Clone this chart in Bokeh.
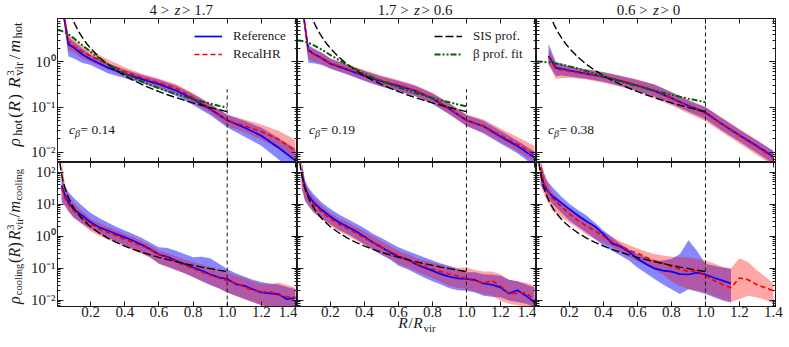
import math
from bokeh.plotting import figure
from bokeh.models import (Range1d, LinearAxis, LogAxis, FixedTicker,
                          CustomJSTickFormatter, Label, Legend, LegendItem)
from bokeh.layouts import column, row
from bokeh.embed import file_html
from bokeh.resources import INLINE

FONT = "Liberation Serif"
INK = "#1a1a1a"
BLUE = "#0000ff"
RED = "#ff0000"
GREEN = "#006400"
BLUE_ALPHA = 0.47
RED_ALPHA = 0.35

# ---------------------------------------------------------------- data
title_left = ["4 >", "1.7 >", "0.6 >"]
title_right = ["> 1.7", "> 0.6", "> 0"]
c_beta_text = ["0.14", "0.19", "0.38"]

x_ticks = [0.2, 0.4, 0.6, 0.8, 1.0, 1.2, 1.4]
x_lim = (0.006, 1.412)
hot_ylim = (0.006, 9.1)
cool_ylim = (0.0065, 200.0)
hot_yticks = [0.01, 0.1, 1.0]
cool_yticks = [0.01, 0.1, 1.0, 10.0, 100.0]
r_vir_line = 1.0
vline_top = [0.25, 0.25, 9.1, 200.0, 200.0, 200.0]

# analytic profiles
R_sis = [0.02, 0.025, 0.03, 0.035, 0.04, 0.05, 0.06, 0.07, 0.08, 0.09, 0.1,
         0.11, 0.12, 0.14, 0.16, 0.18, 0.2, 0.25, 0.3, 0.35, 0.4, 0.45, 0.5,
         0.55, 0.6, 0.65, 0.7, 0.75, 0.8, 0.85, 0.9, 0.95, 1.0]
sis_prof = [198.9, 127.3, 88.4, 64.96, 49.7, 31.8, 22.1, 16.24, 12.43, 9.82,
            7.96, 6.58, 5.53, 4.06, 3.108, 2.456, 1.99, 1.273, 0.884, 0.6496,
            0.497, 0.393, 0.318, 0.263, 0.221, 0.1884, 0.1624, 0.1415, 0.1243,
            0.1101, 0.0982, 0.0882, 0.0796]
R_beta = [0.006, 0.025, 0.05, 0.075, 0.1, 0.15, 0.2, 0.25, 0.3, 0.35, 0.4,
          0.45, 0.5, 0.55, 0.6, 0.65, 0.7, 0.75, 0.8, 0.85, 0.9, 0.95, 1.0]
beta_fit_1 = [5.07, 4.92, 4.50, 3.946, 3.363, 2.364, 1.670, 1.212, 0.908, 0.700,
              0.554, 0.448, 0.369, 0.309, 0.262, 0.225, 0.195, 0.171, 0.151,
              0.134, 0.120, 0.108, 0.0976]
beta_fit_2 = [2.985, 2.939, 2.796, 2.587, 2.341, 1.842, 1.418, 1.095, 0.856,
              0.681, 0.550, 0.452, 0.377, 0.319, 0.273, 0.235, 0.205, 0.180,
              0.160, 0.142, 0.128, 0.115, 0.104]
beta_fit_3 = [1.018, 1.014, 1.001, 0.980, 0.953, 0.881, 0.798, 0.711, 0.627,
              0.551, 0.483, 0.424, 0.373, 0.329, 0.292, 0.259, 0.232, 0.208,
              0.188, 0.170, 0.154, 0.141, 0.1285]

# hot gas, log10 of rho R^3/m  (median, 16th, 84th percentiles)
R_hot_12 = [0.035, 0.07, 0.1, 0.15, 0.2, 0.3, 0.4, 0.5, 0.6, 0.7, 0.8, 0.9,
            1.0, 1.1, 1.2, 1.3, 1.4]
hot1_ref_med = [1.2, 0.39, 0.32, 0.17, 0.06, -0.125, -0.26, -0.38, -0.49, -0.63,
                -0.82, -1.04, -1.29, -1.45, -1.63, -1.89, -2.18]
hot1_ref_lo = [1.1, 0.12, 0.08, -0.02, -0.07, -0.25, -0.36, -0.47, -0.6, -0.75,
               -0.95, -1.17, -1.45, -1.65, -1.85, -2.15, -2.45]
hot1_ref_hi = [1.3, 0.55, 0.45, 0.3, 0.16, -0.03, -0.17, -0.29, -0.39, -0.52,
               -0.71, -0.93, -1.16, -1.3, -1.45, -1.68, -1.92]
hot1_rec_med = [1.2, 0.46, 0.35, 0.23, 0.13, -0.05, -0.21, -0.35, -0.46, -0.58,
                -0.79, -1.02, -1.29, -1.41, -1.54, -1.71, -1.96]
hot1_rec_lo = [1.1, 0.25, 0.2, 0.08, 0.0, -0.17, -0.31, -0.44, -0.56, -0.7,
               -0.9, -1.13, -1.42, -1.55, -1.72, -1.92, -2.2]
hot1_rec_hi = [1.3, 0.62, 0.5, 0.37, 0.25, 0.06, -0.12, -0.26, -0.37, -0.49,
               -0.69, -0.92, -1.17, -1.27, -1.38, -1.52, -1.72]

hot2_ref_med = [1.2, 0.26, 0.18, 0.08, -0.04, -0.17, -0.31, -0.43, -0.53, -0.64,
                -0.81, -1.04, -1.29, -1.42, -1.65, -1.86, -2.11]
hot2_ref_lo = [1.1, -0.02, -0.03, -0.07, -0.15, -0.28, -0.42, -0.55, -0.65,
               -0.76, -0.93, -1.16, -1.41, -1.58, -1.8, -2.02, -2.3]
hot2_ref_hi = [1.3, 0.38, 0.3, 0.2, 0.07, -0.07, -0.2, -0.32, -0.42, -0.53,
               -0.7, -0.92, -1.17, -1.3, -1.52, -1.74, -1.98]
hot2_rec_med = [1.2, 0.23, 0.17, 0.08, -0.03, -0.15, -0.29, -0.41, -0.51, -0.63,
                -0.8, -1.03, -1.29, -1.41, -1.62, -1.82, -2.04]
hot2_rec_lo = [1.1, 0.06, 0.02, -0.05, -0.14, -0.27, -0.41, -0.54, -0.64, -0.76,
               -0.92, -1.15, -1.42, -1.56, -1.77, -1.98, -2.22]
hot2_rec_hi = [1.3, 0.33, 0.28, 0.2, 0.08, -0.05, -0.18, -0.3, -0.4, -0.51,
               -0.68, -0.91, -1.16, -1.27, -1.47, -1.66, -1.85]

R_hot_3 = [0.077, 0.12, 0.15, 0.2, 0.3, 0.4, 0.5, 0.6, 0.7, 0.8, 0.9, 1.0, 1.1,
           1.2, 1.3, 1.4]
hot3_ref_med = [0.13, -0.13, -0.15, -0.19, -0.26, -0.33, -0.42, -0.52, -0.64,
                -0.8, -0.97, -1.12, -1.38, -1.62, -1.85, -2.1]
hot3_ref_lo = [-0.05, -0.31, -0.3, -0.32, -0.37, -0.44, -0.53, -0.64, -0.77,
               -0.93, -1.1, -1.26, -1.52, -1.76, -2.0, -2.25]
hot3_ref_hi = [0.4, 0.0, -0.03, -0.1, -0.17, -0.23, -0.31, -0.4, -0.5, -0.67,
               -0.85, -1.0, -1.25, -1.5, -1.73, -1.96]
hot3_rec_med = [0.10, -0.16, -0.17, -0.21, -0.27, -0.33, -0.41, -0.51, -0.63,
                -0.8, -0.98, -1.14, -1.39, -1.63, -1.87, -2.12]
hot3_rec_lo = [-0.05, -0.38, -0.36, -0.35, -0.39, -0.46, -0.55, -0.66, -0.8,
               -0.96, -1.14, -1.31, -1.56, -1.8, -2.05, -2.3]
hot3_rec_hi = [0.28, -0.02, -0.05, -0.1, -0.16, -0.22, -0.3, -0.39, -0.5, -0.66,
               -0.84, -0.99, -1.24, -1.48, -1.72, -1.98]

# cooling gas, log10 of rho R^3/m
R_cool = [0.03, 0.05, 0.07, 0.1, 0.15, 0.2, 0.25, 0.3, 0.35, 0.4, 0.45, 0.5,
          0.55, 0.6, 0.65, 0.7, 0.75, 0.8, 0.85, 0.9, 0.95, 1.0, 1.05, 1.1,
          1.15, 1.2, 1.25, 1.3, 1.35, 1.4]
cool1_ref_med = [1.58, 1.27, 1.06, 0.85, 0.65, 0.44, 0.28, 0.18, 0.07, -0.03,
                 -0.14, -0.26, -0.40, -0.57, -0.64, -0.76, -0.86, -0.97, -1.07,
                 -1.18, -1.28, -1.33, -1.49, -1.54, -1.65, -1.75, -1.78, -1.80,
                 -1.96, -1.91]
cool1_ref_hi = [1.9, 1.55, 1.38, 1.2, 0.95, 0.73, 0.57, 0.43, 0.3, 0.18, 0.07,
                -0.05, -0.2, -0.34, -0.36, -0.45, -0.55, -0.65, -0.64, -0.68,
                -0.85, -1.02, -1.15, -1.25, -1.35, -1.42, -1.47, -1.5, -1.58,
                -1.65]
cool1_ref_lo = [1.05, 0.95, 0.78, 0.58, 0.40, 0.23, 0.08, -0.04, -0.16, -0.28,
                -0.4, -0.52, -0.65, -0.85, -0.95, -1.05, -1.15, -1.27, -1.4,
                -1.52, -1.62, -1.75, -1.85, -1.95, -2.05, -2.15, -2.2, -2.25,
                -2.25, -2.25]
cool1_rec_med = [1.5, 1.2, 1.0, 0.8, 0.58, 0.38, 0.23, 0.12, 0.02, -0.09, -0.19,
                 -0.3, -0.42, -0.56, -0.67, -0.79, -0.9, -1.0, -1.11, -1.21,
                 -1.3, -1.38, -1.46, -1.58, -1.68, -1.74, -1.72, -1.83, -1.88,
                 -1.9]
cool1_rec_hi = [2.4, 1.6, 1.3, 1.05, 0.78, 0.55, 0.42, 0.3, 0.2, 0.08, -0.03,
                -0.15, -0.28, -0.45, -0.52, -0.62, -0.72, -0.8, -0.88, -0.95,
                -1.05, -1.12, -1.22, -1.3, -1.4, -1.48, -1.5, -1.44, -1.52, -1.6]
cool1_rec_lo = [1.15, 0.95, 0.78, 0.6, 0.38, 0.16, 0.02, -0.1, -0.2, -0.32,
                -0.43, -0.55, -0.67, -0.86, -0.95, -1.05, -1.15, -1.27, -1.38,
                -1.5, -1.62, -1.75, -1.85, -1.95, -2.05, -2.15, -2.2, -2.22,
                -2.25, -2.22]

cool2_ref_med = [2.0, 1.53, 1.27, 1.06, 0.82, 0.61, 0.44, 0.30, 0.16, -0.01,
                 -0.19, -0.34, -0.5, -0.63, -0.71, -0.86, -0.97, -1.07, -1.18,
                 -1.26, -1.31, -1.33, -1.36, -1.47, -1.51, -1.59, -1.78, -1.68,
                 -1.85, -2.06]
cool2_ref_hi = [2.3, 1.75, 1.52, 1.32, 1.05, 0.85, 0.68, 0.54, 0.4, 0.25, 0.08,
                -0.05, -0.2, -0.34, -0.45, -0.55, -0.65, -0.75, -0.85, -0.92,
                -1.02, -1.12, -1.12, -1.18, -1.2, -1.23, -1.35, -1.4, -1.5,
                -1.59]
cool2_ref_lo = [1.5, 1.1, 0.95, 0.75, 0.55, 0.38, 0.2, 0.07, -0.08, -0.25,
                -0.42, -0.58, -0.72, -0.92, -1.02, -1.15, -1.28, -1.4, -1.5,
                -1.62, -1.68, -1.7, -1.75, -1.85, -1.88, -1.9, -2.0, -2.05,
                -2.1, -2.2]
cool2_rec_med = [1.95, 1.45, 1.2, 1.0, 0.75, 0.55, 0.38, 0.24, 0.1, -0.05, -0.2,
                 -0.34, -0.47, -0.6, -0.73, -0.84, -0.93, -1.02, -1.1, -1.18,
                 -1.24, -1.32, -1.4, -1.45, -1.38, -1.55, -1.78, -1.78, -1.75,
                 -2.0]
cool2_rec_hi = [2.4, 1.7, 1.45, 1.22, 0.95, 0.72, 0.56, 0.44, 0.3, 0.15, 0.0,
                -0.15, -0.3, -0.45, -0.55, -0.66, -0.75, -0.82, -0.88, -0.97,
                -0.98, -0.97, -1.05, -1.1, -1.1, -1.18, -1.35, -1.4, -1.45,
                -1.54]
cool2_rec_lo = [1.6, 1.15, 0.95, 0.75, 0.52, 0.34, 0.16, 0.02, -0.12, -0.28,
                -0.42, -0.56, -0.68, -0.86, -0.96, -1.08, -1.2, -1.3, -1.42,
                -1.54, -1.6, -1.65, -1.72, -1.8, -1.85, -2.01, -2.1, -2.15,
                -2.2, -2.25]

R_cool_3ref = [0.03, 0.05, 0.07, 0.1, 0.15, 0.2, 0.25, 0.3, 0.35, 0.4, 0.45,
               0.5, 0.55, 0.6, 0.65, 0.7, 0.75, 0.8, 0.85, 0.9, 0.95, 1.0,
               1.05, 1.1, 1.15]
cool3_ref_med = [2.0, 1.62, 1.42, 1.25, 1.05, 0.85, 0.65, 0.47, 0.31, 0.07,
                 -0.22, -0.32, -0.48, -0.7, -0.86, -1.0, -1.07, -1.1, -1.18,
                 -1.19, -1.13, -1.19, -1.29, -1.38, -1.47]
cool3_ref_hi = [2.3, 1.95, 1.72, 1.53, 1.25, 1.01, 0.82, 0.65, 0.42, 0.18,
                -0.02, -0.24, -0.4, -0.55, -0.65, -0.76, -0.75, -0.71, -0.55,
                -0.12, -0.45, -0.86, -0.92, -0.97, -1.02]
cool3_ref_lo = [1.6, 1.43, 1.22, 1.01, 0.75, 0.49, 0.3, 0.12, -0.08, -0.29,
                -0.45, -0.6, -0.75, -0.97, -1.15, -1.33, -1.5, -1.65, -1.8,
                -1.65, -1.72, -1.8, -1.9, -2.0, -2.06]
cool3_rec_med = [2.15, 1.65, 1.45, 1.19, 0.94, 0.7, 0.49, 0.32, 0.17, 0.0,
                 -0.17, -0.3, -0.43, -0.53, -0.65, -0.76, -0.84, -0.95, -1.02,
                 -1.1, -1.07, -1.22, -1.38, -1.5, -1.6, -1.3, -1.35, -1.5,
                 -1.6, -1.7]
cool3_rec_hi = [2.4, 2.0, 1.7, 1.35, 1.1, 0.85, 0.65, 0.47, 0.3, 0.12, -0.02,
                -0.16, -0.27, -0.38, -0.47, -0.55, -0.6, -0.64, -0.65, -0.66,
                -0.7, -0.75, -0.85, -0.95, -1.0, -0.68, -0.8, -1.05, -1.25,
                -1.48]
cool3_rec_lo = [1.6, 1.3, 1.1, 0.8, 0.6, 0.42, 0.25, 0.05, -0.08, -0.2, -0.32,
                -0.5, -0.65, -0.78, -0.9, -1.05, -1.2, -1.4, -1.55, -1.65,
                -1.7, -1.75, -1.85, -1.95, -2.05, -1.95, -1.85, -1.9, -1.98,
                -2.1]

# ---------------------------------------------------------------- layout
PANEL_WS = [240, 239, 239]
PANEL_H = 144
YLAB_W = 28          # strip holding the rotated y labels
LEFT = 29            # room for the y tick labels
RIGHT = 12
TITLE_H = 18
TICK_H = 17          # room for the x tick labels
XLAB_H = 24
XLAB_OVERLAP = 9     # x-label strip tucks under the tick-label band
TOTAL_W = YLAB_W + LEFT + sum(PANEL_WS) + RIGHT
MID = 0.34           # distance baseline -> middle of a text line, in em

W_REG = {' ': .25, '(': .333, ')': .333, '/': .278, '.': .25, '=': .564,
         '>': .564, 'a': .444, 'c': .444, 'e': .444, 'f': .333, 'g': .5,
         'h': .5, 'i': .278, 'l': .278, 'm': .778, 'n': .5, 'o': .5, 'p': .5,
         'r': .333, 's': .389, 't': .278, 'v': .5}
W_IT = {'R': .611, 'm': .722, 'z': .389, 'c': .444, 'ρ': .52, 'β': .5}


def tw(text, size, italic):
    table = W_IT if italic else W_REG
    return sum(table.get(ch, 0.5) for ch in text) * size


def add_label(p, text, x, y, size, italic=False, angle=0.0, align="left"):
    p.add_layout(Label(x=x, y=y, x_units="screen", y_units="screen", text=text,
                       angle=angle, text_font=FONT, text_font_size=f"{size}px",
                       text_font_style="italic" if italic else "normal",
                       text_color=INK, text_baseline="middle",
                       text_align=align))


def rich_h(p, pieces, x, y_base, center=False):
    """pieces: (text, size, italic, baseline shift, advances, extra gap)"""
    total = sum(tw(t, s, it) + g for t, s, it, dy, adv, g in pieces if adv)
    if center:
        x -= total / 2
    for t, s, it, dy, adv, g in pieces:
        add_label(p, t, x, y_base + dy + MID * s, s, it)
        if adv:
            x += tw(t, s, it) + g


def rich_v(p, pieces, x_base, yc):
    """text reading bottom-to-top; x_base is the baseline position"""
    total = sum(tw(t, s, it) + g for t, s, it, dx, adv, g in pieces if adv)
    y = yc - total / 2
    for t, s, it, dx, adv, g in pieces:
        add_label(p, t, x_base + dx - MID * s, y, s, it, angle=math.pi / 2)
        if adv:
            y += tw(t, s, it) + g


def ylabel_pieces(sub, M, S, k):
    return [("ρ", M, True, 0, True, 1.2 * k), (sub, S, False, 2.5, True, 1.5 * k),
            ("(", M, False, 0, True, 0.3 * k), ("R", M, True, 0, True, 1 * k),
            (")", M, False, 0, True, 4.5 * k), ("R", M, True, 0, True, 1.2 * k),
            ("3", 11, False, -5.5, False, 0), ("vir", S, False, 3, True, 2 * k),
            ("/", M, False, 0, True, 1.5 * k), ("m", M, True, 0, True, 1 * k),
            (sub, S, False, 2.5, True, 0)]


Y_FMT = CustomJSTickFormatter(code="""
const e = Math.round(Math.log10(tick));
const m = {"-": "\u207b", "0": "\u2070", "1": "\u00b9", "2": "\u00b2", "3": "\u00b3"};
let s = "";
for (const ch of String(e)) { s += m[ch]; }
return "10" + s;
""")
X_FMT = CustomJSTickFormatter(code="return tick.toFixed(1);")
EMPTY_FMT = CustomJSTickFormatter(code="return '';")


def style_axis(ax, ticker, fmt, show, major_len, standoff=2):
    ax.ticker = ticker
    ax.axis_line_color = INK
    ax.major_tick_line_color = INK
    ax.minor_tick_line_color = INK
    ax.major_tick_in = major_len
    ax.major_tick_out = 0
    ax.minor_tick_in = 3
    ax.minor_tick_out = 0
    if show:
        ax.formatter = fmt
        ax.major_label_text_font = FONT
        ax.major_label_text_font_size = "15px"
        ax.major_label_text_color = INK
        ax.major_label_standoff = standoff
    else:
        ax.formatter = EMPTY_FMT
        ax.major_label_text_font_size = "0px"
        ax.major_label_standoff = 0


def minor_log(lo_exp, hi_exp):
    return [m * 10.0 ** e for e in range(lo_exp, hi_exp) for m in range(2, 10)]


def dex(vals):
    return [10.0 ** v for v in vals]


def text_fig(w, h, transparent=False):
    f = figure(width=w, height=h, x_range=Range1d(0, w), y_range=Range1d(0, h),
               x_axis_location=None, y_axis_location=None,
               output_backend="svg", toolbar_location=None, min_border=0)
    f.xgrid.grid_line_color = None
    f.ygrid.grid_line_color = None
    f.outline_line_color = None
    f.background_fill_color = "white"
    f.border_fill_color = "white"
    if transparent:
        f.background_fill_alpha = 0
        f.border_fill_alpha = 0
    return f


def make_fig(rw, col):
    ylim = hot_ylim if rw == 0 else cool_ylim
    w = PANEL_WS[col] + (LEFT if col == 0 else 0) + (RIGHT if col == 2 else 0)
    h = PANEL_H + (TICK_H if rw == 1 else 0)
    p = figure(width=w, height=h, x_range=Range1d(*x_lim),
               y_range=Range1d(*ylim), y_axis_type="log",
               output_backend="svg", toolbar_location=None,
               min_border=0,
               min_border_left=LEFT if col == 0 else 0,
               min_border_right=RIGHT if col == 2 else 0,
               min_border_top=0,
               min_border_bottom=TICK_H if rw == 1 else 0)
    p.background_fill_color = "white"
    p.border_fill_color = "white"
    p.outline_line_color = INK
    p.xgrid.grid_line_color = None
    p.ygrid.grid_line_color = None
    yt = hot_yticks if rw == 0 else cool_yticks
    yticker = FixedTicker(ticks=yt, minor_ticks=minor_log(-3, 3))
    xticker = FixedTicker(ticks=x_ticks, minor_ticks=[])
    top_ax = LinearAxis()
    right_ax = LogAxis()
    p.add_layout(top_ax, "above")
    p.add_layout(right_ax, "right")
    style_axis(p.below[0], xticker, X_FMT, rw == 1, 5, standoff=0)
    style_axis(top_ax, xticker, X_FMT, False, 5)
    style_axis(p.left[0], yticker, Y_FMT, col == 0, 6, standoff=2)
    style_axis(right_ax, yticker, Y_FMT, False, 6)
    return p


def draw_panel(p, R_ref, ref_med, ref_lo, ref_hi, R_rec, rec_med, rec_lo, rec_hi):
    p.varea(x=R_ref, y1=dex(ref_lo), y2=dex(ref_hi), fill_color=BLUE,
            fill_alpha=BLUE_ALPHA)
    p.varea(x=R_rec, y1=dex(rec_lo), y2=dex(rec_hi), fill_color=RED,
            fill_alpha=RED_ALPHA)
    l_ref = p.line(R_ref, dex(ref_med), line_color=BLUE, line_width=1.7)
    l_rec = p.line(R_rec, dex(rec_med), line_color=RED, line_width=1.7,
                   line_dash="5 3")
    return l_ref, l_rec


panels_hot = [
    (R_hot_12, hot1_ref_med, hot1_ref_lo, hot1_ref_hi, R_hot_12, hot1_rec_med, hot1_rec_lo, hot1_rec_hi),
    (R_hot_12, hot2_ref_med, hot2_ref_lo, hot2_ref_hi, R_hot_12, hot2_rec_med, hot2_rec_lo, hot2_rec_hi),
    (R_hot_3, hot3_ref_med, hot3_ref_lo, hot3_ref_hi, R_hot_3, hot3_rec_med, hot3_rec_lo, hot3_rec_hi),
]
panels_cool = [
    (R_cool, cool1_ref_med, cool1_ref_lo, cool1_ref_hi, R_cool, cool1_rec_med, cool1_rec_lo, cool1_rec_hi),
    (R_cool, cool2_ref_med, cool2_ref_lo, cool2_ref_hi, R_cool, cool2_rec_med, cool2_rec_lo, cool2_rec_hi),
    (R_cool_3ref, cool3_ref_med, cool3_ref_lo, cool3_ref_hi, R_cool, cool3_rec_med, cool3_rec_lo, cool3_rec_hi),
]
beta_fits = [beta_fit_1, beta_fit_2, beta_fit_3]

figs = [[None] * 3, [None] * 3]
for rw in range(2):
    for col in range(3):
        p = make_fig(rw, col)
        figs[rw][col] = p
        data = panels_hot[col] if rw == 0 else panels_cool[col]
        l_ref, l_rec = draw_panel(p, *data)
        ylim = hot_ylim if rw == 0 else cool_ylim
        p.segment(x0=[r_vir_line], y0=[ylim[0]], x1=[r_vir_line],
                  y1=[vline_top[rw * 3 + col]], line_color=INK,
                  line_width=1, line_dash="4 3")
        l_sis = p.line(R_sis, sis_prof, line_color="black", line_width=1.4,
                       line_dash="8 3")
        if rw == 0:
            l_beta = p.line(R_beta, beta_fits[col], line_color=GREEN,
                            line_width=2, line_dash="6 2 2 2 2 2")
            rich_h(p, [("c", 13.5, True, 0, True, 0),
                       ("β", 10, True, -3, True, 0.5),
                       (" = " + c_beta_text[col], 13.5, False, 0, True, 0)],
                   11.5, 28.7)
            if col in (0, 1):
                items = ([LegendItem(label="Reference", renderers=[l_ref]),
                          LegendItem(label="RecalHR", renderers=[l_rec])]
                         if col == 0 else
                         [LegendItem(label="SIS prof.", renderers=[l_sis]),
                          LegendItem(label="β prof. fit", renderers=[l_beta])])
                leg = Legend(items=items, location=(132, 94),
                             label_text_font=FONT,
                             label_text_font_size="13px",
                             label_text_color=INK,
                             glyph_width=28, glyph_height=18,
                             label_height=18, label_standoff=11,
                             spacing=0, padding=5, margin=0,
                             background_fill_alpha=0,
                             border_line_alpha=0)
                p.add_layout(leg)

# ---- text strips
title_fig = text_fig(TOTAL_W, TITLE_H)
zw = tw("z", 15, True)
x0 = YLAB_W + LEFT
for col in range(3):
    zc = x0 + sum(PANEL_WS[:col]) + PANEL_WS[col] / 2
    add_label(title_fig, title_left[col] + " ", zc - zw / 2 - 1.5, 8.4, 15,
              align="right")
    add_label(title_fig, "z", zc, 8.4, 15, italic=True, align="center")
    add_label(title_fig, " " + title_right[col], zc + zw / 2 + 1.5, 8.4, 15,
              align="left")

ylab_top = text_fig(YLAB_W, PANEL_H)
rich_v(ylab_top, ylabel_pieces("hot", 17.5, 12.5, 1.3), 19.5, PANEL_H / 2 + 6)
ylab_bot = text_fig(YLAB_W, PANEL_H + TICK_H)
rich_v(ylab_bot, ylabel_pieces("cooling", 16, 10.5, 0.4), 19.5, 70)

xlab_fig = text_fig(TOTAL_W, XLAB_H, transparent=True)
xlab_fig.margin = (-XLAB_OVERLAP, 0, 0, 0)
rich_h(xlab_fig, [("R", 15.5, True, 0, True, 0.6),
                  ("/", 15.5, False, 0, True, 0.6),
                  ("R", 15.5, True, 0, True, 0.6),
                  ("vir", 11, False, -3.5, True, 0)],
       x0 + PANEL_WS[0] + PANEL_WS[1] / 2, 10.5, center=True)

layout = column(title_fig,
                row(ylab_top, figs[0][0], figs[0][1], figs[0][2]),
                row(ylab_bot, figs[1][0], figs[1][1], figs[1][2]),
                xlab_fig)

open("out.html", "w").write(file_html(layout, INLINE))
